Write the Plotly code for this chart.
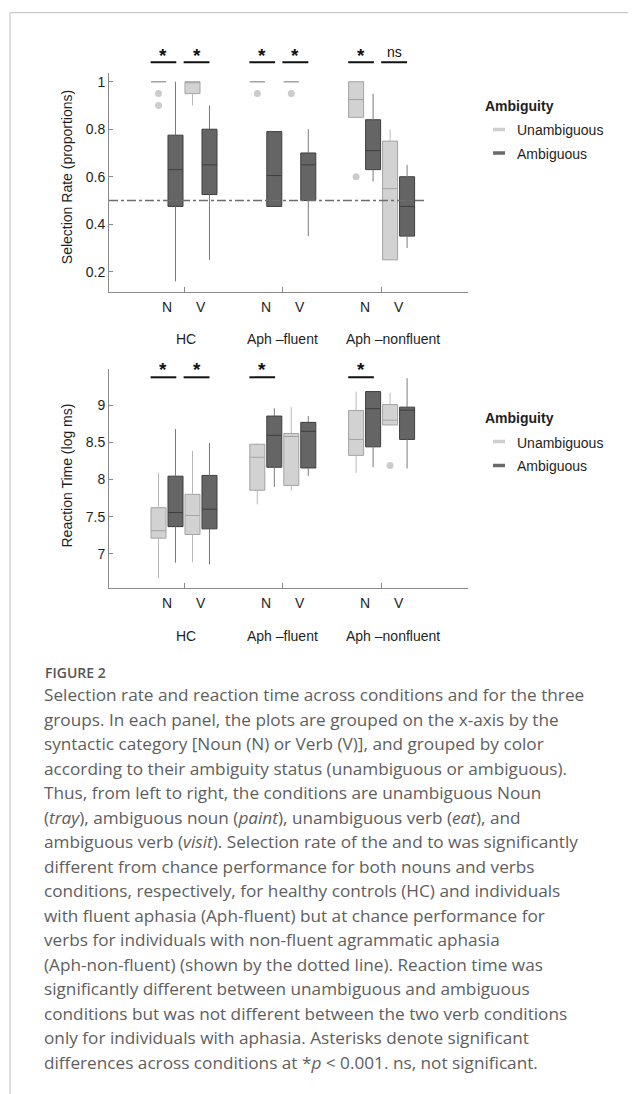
import plotly.graph_objects as go

W, H = 636, 1094
BODY = 8  # default page margin around the plot div
FW, FH = W - BODY, H - BODY

# ---------------- data ----------------
groups = ["HC", "Aph –fluent", "Aph –nonfluent"]
pair_labels = ["N", "V"]
ambiguity_labels = ["Unambiguous", "Ambiguous"]

# five-number summaries per group: (lower whisker, q1, median, q3, upper whisker)
sr_noun_unamb = [[1.00, 1.00, 1.00, 1.00, 1.00], [1.00, 1.00, 1.00, 1.00, 1.00], [0.85, 0.85, 0.925, 1.00, 1.00]]
sr_noun_amb = [[0.16, 0.475, 0.63, 0.775, 1.00], [0.475, 0.475, 0.605, 0.79, 0.79], [0.58, 0.63, 0.71, 0.84, 0.95]]
sr_verb_unamb = [[0.90, 0.95, 1.00, 1.00, 1.00], [1.00, 1.00, 1.00, 1.00, 1.00], [0.25, 0.25, 0.55, 0.75, 0.80]]
sr_verb_amb = [[0.25, 0.525, 0.65, 0.80, 0.90], [0.35, 0.50, 0.65, 0.70, 0.80], [0.30, 0.35, 0.475, 0.60, 0.65]]
# outliers: (group index, condition index, value)
sr_outliers = [(0, 0, 0.95), (0, 0, 0.90), (1, 0, 0.95), (1, 2, 0.95), (2, 0, 0.60)]
sr_chance = 0.5

rt_noun_unamb = [[6.67, 7.21, 7.31, 7.62, 8.09], [7.665, 7.855, 8.30, 8.475, 8.49], [8.09, 8.325, 8.54, 8.93, 9.185]]
rt_noun_amb = [[6.88, 7.365, 7.555, 8.045, 8.68], [7.90, 8.165, 8.595, 8.855, 8.96], [8.165, 8.44, 8.955, 9.185, 9.185]]
rt_verb_unamb = [[6.885, 7.26, 7.515, 7.80, 8.385], [7.85, 7.92, 8.58, 8.62, 8.975], [8.735, 8.735, 8.80, 9.01, 9.17]]
rt_verb_amb = [[6.855, 7.335, 7.60, 8.055, 8.49], [8.05, 8.155, 8.65, 8.77, 8.855], [8.15, 8.54, 8.935, 8.975, 9.365]]
rt_outliers = [(2, 2, 8.19)]

# significance: (group index, pair index, label)
sr_sig = [(0, 0, "*"), (0, 1, "*"), (1, 0, "*"), (1, 1, "*"), (2, 0, "*"), (2, 1, "ns")]
rt_sig = [(0, 0, "*"), (0, 1, "*"), (1, 0, "*"), (2, 0, "*")]

sr_ticks = [0.2, 0.4, 0.6, 0.8, 1]
sr_ticktext = ["0.2", "0.4", "0.6", "0.8", "1"]
rt_ticks = [7, 7.5, 8, 8.5, 9]
rt_ticktext = ["7", "7.5", "8", "8.5", "9"]

caption_title = "FIGURE 2"
caption_lines = [
    "Selection rate and reaction time across conditions and for the three",
    "groups. In each panel, the plots are grouped on the x-axis by the",
    "syntactic category [Noun (N) or Verb (V)], and grouped by color",
    "according to their ambiguity status (unambiguous or ambiguous).",
    "Thus, from left to right, the conditions are unambiguous Noun",
    "(<i>tray</i>), ambiguous noun (<i>paint</i>), unambiguous verb (<i>eat</i>), and",
    "ambiguous verb (<i>visit</i>). Selection rate of the and to was significantly",
    "different from chance performance for both nouns and verbs",
    "conditions, respectively, for healthy controls (HC) and individuals",
    "with fluent aphasia (Aph-fluent) but at chance performance for",
    "verbs for individuals with non-fluent agrammatic aphasia",
    "(Aph-non-fluent) (shown by the dotted line). Reaction time was",
    "significantly different between unambiguous and ambiguous",
    "conditions but was not different between the two verb conditions",
    "only for individuals with aphasia. Asterisks denote significant",
    "differences across conditions at *<i>p</i> < 0.001. ns, not significant.",
]

# ---------------- styling ----------------
offsets = [-0.258, -0.086, 0.086, 0.258]
box_w = 0.152
LIGHT_FILL, LIGHT_LINE, LIGHT_WHISK = "#d2d2d2", "#a3a3a3", "#b8b8b8"
DARK_FILL, DARK_LINE, DARK_WHISK = "#656565", "#3e3e3e", "#7a7a7a"
fills = [LIGHT_FILL, DARK_FILL, LIGHT_FILL, DARK_FILL]
lines = [LIGHT_LINE, DARK_LINE, LIGHT_LINE, DARK_LINE]
whisks = [LIGHT_WHISK, DARK_WHISK, LIGHT_WHISK, DARK_WHISK]
AXC = "#8a8a8a"
TXT = "#1e1e1e"
FONT = "Liberation Sans, Arial, sans-serif"


def px(x):
    return (x - BODY) / FW


def py(y):
    return 1 - (y - BODY) / FH


fig = go.Figure()


def add_panel(data_sets, outliers, xa, ya):
    for ci, ds in enumerate(data_sets):
        xs = [g + 1 + offsets[ci] for g in range(len(groups))]
        wx, wy = [], []
        for x, s in zip(xs, ds):
            wx += [x, x, None, x, x, None]
            wy += [s[3], s[4], None, s[1], s[0], None]
        fig.add_trace(go.Scatter(x=wx, y=wy, mode="lines", xaxis=xa, yaxis=ya,
                                 line=dict(color=whisks[ci], width=1),
                                 showlegend=False, hoverinfo="skip"))
        fig.add_trace(go.Box(
            x=xs, q1=[s[1] for s in ds], median=[s[2] for s in ds], q3=[s[3] for s in ds],
            lowerfence=[s[1] for s in ds], upperfence=[s[3] for s in ds],
            width=box_w, whiskerwidth=0, fillcolor=fills[ci],
            line=dict(color=lines[ci], width=1), boxpoints=False,
            xaxis=xa, yaxis=ya, showlegend=False))
    fig.add_trace(go.Scatter(
        x=[o[0] + 1 + offsets[o[1]] for o in outliers], y=[o[2] for o in outliers],
        mode="markers", xaxis=xa, yaxis=ya,
        marker=dict(color="#cccccc", size=7, line=dict(width=0)),
        showlegend=False))


add_panel([sr_noun_unamb, sr_noun_amb, sr_verb_unamb, sr_verb_amb], sr_outliers, "x", "y")
add_panel([rt_noun_unamb, rt_noun_amb, rt_verb_unamb, rt_verb_amb], rt_outliers, "x2", "y2")

x_dom = [px(109), px(467.7)]
x_rng = [0.2409, 3.8715]
axis_common = dict(showline=True, linecolor=AXC, linewidth=1, showgrid=False, zeroline=False,
                   ticks="inside", tickcolor=AXC, tickwidth=1,
                   tickfont=dict(family=FONT, size=14, color=TXT))

fig.update_layout(
    width=FW, height=FH, margin=dict(l=0, r=0, t=0, b=0),
    paper_bgcolor="white", plot_bgcolor="white", showlegend=False,
    font=dict(family=FONT, size=14, color=TXT),
    xaxis=dict(domain=x_dom, range=x_rng, tickvals=[1, 2, 3], showticklabels=False,
               anchor="y", ticklen=5, **axis_common),
    yaxis=dict(domain=[py(291.7), py(72.7)], range=[0.116, 1.038], tickvals=sr_ticks,
               ticktext=sr_ticktext, anchor="x", ticklen=4, **axis_common),
    xaxis2=dict(domain=x_dom, range=x_rng, tickvals=[1, 2, 3], showticklabels=False,
                anchor="y2", ticklen=5, **axis_common),
    yaxis2=dict(domain=[py(588.3), py(369.3)], range=[6.534, 9.485], tickvals=rt_ticks,
                ticktext=rt_ticktext, anchor="x2", ticklen=4, **axis_common),
)

shapes = []
ann = []

# chance line
shapes.append(dict(type="line", xref="x", yref="y", x0=x_rng[0], x1=3.43, y0=sr_chance, y1=sr_chance,
                   line=dict(color="#6e6e6e", width=1.5, dash="dashdot")))

pair_span = [(-0.338, -0.078), (-0.004, 0.258)]


def add_sig(sig, xref, bar_y, txt_y):
    for g, p, lab in sig:
        x0 = g + 1 + pair_span[p][0]
        x1 = g + 1 + pair_span[p][1]
        shapes.append(dict(type="line", xref=xref, yref="paper", x0=x0, x1=x1,
                           y0=py(bar_y), y1=py(bar_y), line=dict(color="#111111", width=2)))
        if lab == "*":
            ann.append(dict(x=(x0 + x1) / 2, y=py(txt_y + 4), xref=xref, yref="paper", text="<b>*</b>",
                            showarrow=False, font=dict(family=FONT, size=19, color="#111111"),
                            xanchor="center", yanchor="middle"))
        else:
            ann.append(dict(x=(x0 + x1) / 2, y=py(txt_y), xref=xref, yref="paper", text=lab,
                            showarrow=False, font=dict(family=FONT, size=14, color="#111111"),
                            xanchor="center", yanchor="middle"))


add_sig(sr_sig, "x", 62.3, 51.7)
add_sig(rt_sig, "x2", 377.3, 365)

group_label_pos = [1.02, 2.0, 3.12]
for xref, nv_y, grp_y in [("x", 306.7, 339.3), ("x2", 603.3, 636)]:
    for g in range(len(groups)):
        for p, lab in enumerate(pair_labels):
            ann.append(dict(x=g + 1 + (-0.172 if p == 0 else 0.172), y=py(nv_y), xref=xref, yref="paper",
                            text=lab, showarrow=False, font=dict(family=FONT, size=14, color=TXT),
                            xanchor="center", yanchor="middle"))
        ann.append(dict(x=group_label_pos[g], y=py(grp_y), xref=xref, yref="paper", text=groups[g],
                        showarrow=False, font=dict(family=FONT, size=14, color=TXT),
                        xanchor="center", yanchor="middle"))

# y-axis titles
ann.append(dict(x=px(66.7), y=py(177.5), xref="paper", yref="paper", text="Selection Rate (proportions)",
                textangle=-90, showarrow=False, font=dict(family=FONT, size=14, color=TXT),
                xanchor="center", yanchor="middle"))
ann.append(dict(x=px(66), y=py(475.5), xref="paper", yref="paper", text="Reaction Time (log ms)",
                textangle=-90, showarrow=False, font=dict(family=FONT, size=14, color=TXT),
                xanchor="center", yanchor="middle"))

# manual legends
for title_y, y1, y2 in [(106, 129.5, 153), (418, 441.5, 465.5)]:
    ann.append(dict(x=px(483), y=py(title_y), xref="paper", yref="paper", text="<b>Ambiguity</b>",
                    showarrow=False, font=dict(family=FONT, size=14, color=TXT),
                    xanchor="left", yanchor="middle"))
    for yy, col, lab in [(y1, "#cfcfcf", ambiguity_labels[0]), (y2, "#6a6a6a", ambiguity_labels[1])]:
        shapes.append(dict(type="line", xref="paper", yref="paper", x0=px(493), x1=px(505),
                           y0=py(yy), y1=py(yy), line=dict(color=col, width=3.5)))
        ann.append(dict(x=px(514.5), y=py(yy + 1), xref="paper", yref="paper", text=lab,
                        showarrow=False, font=dict(family=FONT, size=14, color=TXT),
                        xanchor="left", yanchor="middle"))

# frame lines
shapes.append(dict(type="line", xref="paper", yref="paper", x0=px(10), x1=1, y0=py(12.7), y1=py(12.7),
                   line=dict(color="#bdbdbd", width=1)))
shapes.append(dict(type="line", xref="paper", yref="paper", x0=px(10), x1=px(10), y0=0, y1=py(12.7),
                   line=dict(color="#bdbdbd", width=1)))

# caption
CAP = "Open Sans, sans-serif"
ann.append(dict(x=px(43), y=py(672.5), xref="paper", yref="paper", text=caption_title, showarrow=False,
                font=dict(family=CAP, size=14, color="#555555", weight=600),
                xanchor="left", yanchor="middle"))
for i, line in enumerate(caption_lines):
    ann.append(dict(x=px(42), y=py(694.5 + i * 24.5), xref="paper", yref="paper", text=line, showarrow=False,
                    font=dict(family=CAP, size=17.2, color="#5e5e5e", weight=400),
                    xanchor="left", yanchor="middle"))

fig.update_layout(shapes=shapes, annotations=ann)
fig.write_html("out.html")
